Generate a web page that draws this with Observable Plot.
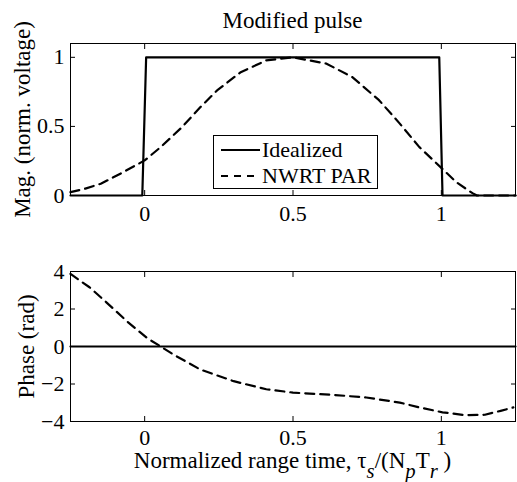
<!DOCTYPE html>
<html>
<head>
<meta charset="utf-8">
<script src="https://cdn.jsdelivr.net/npm/d3@7"></script>
<script src="https://cdn.jsdelivr.net/npm/@observablehq/plot@0.6"></script>
<style>
  html, body { margin: 0; padding: 0; background: #fff; }
  #fig { position: relative; width: 517px; height: 482px; font-family: "Liberation Serif", "Times New Roman", Times, "DejaVu Serif", serif; color: #000; }
  #fig > svg { position: absolute; left: 0; }
  #fig svg text { font-family: "Liberation Serif", "Times New Roman", Times, "DejaVu Serif", serif; }
  .title { position: absolute; left: 70px; width: 445px; text-align: center; font-size: 23px; line-height: 1; }
  .xlabel { position: absolute; left: 70px; width: 445px; text-align: center; font-size: 23px; line-height: 1; white-space: nowrap; }
  .sub { font-style: italic; position: relative; top: 0.48em; font-size: 0.9em; }
  .legend { position: absolute; border: 1px solid #000; background: #fff; box-sizing: border-box; }
  .legend .row { position: absolute; left: 0; height: 24px; display: flex; align-items: center; font-size: 22px; line-height: 1; white-space: nowrap; }
</style>
</head>
<body>
<div id="fig"></div>
<script>
// ---------- data ----------
const title = "Modified pulse";
const magLabel = "Mag. (norm. voltage)";
const phaseLabel = "Phase (rad)";
const seriesNames = ["Idealized", "NWRT PAR"];
const xDomain = [-0.25, 1.25];
const xTicks = [0, 0.5, 1];
const magDomain = [0, 1.1];
const magTicks = [0, 0.5, 1];
const phaseDomain = [-4, 4];
const phaseTicks = [-4, -2, 0, 2, 4];

// Idealized magnitude (rectangular pulse)
const idealMagX = [-0.25, -0.008, 0.005, 0.993, 1.004, 1.25];
const idealMagY = [0, 0, 1, 1, 0, 0];
// NWRT PAR magnitude
const parMagX = [-0.25, -0.2, -0.148, -0.08, 0, 0.054, 0.126, 0.188, 0.244, 0.322, 0.41, 0.5, 0.613, 0.70, 0.79, 0.86, 0.926, 1.0, 1.05, 1.105, 1.12, 1.18, 1.25];
const parMagY = [0.024, 0.05, 0.085, 0.16, 0.254, 0.35, 0.495, 0.64, 0.76, 0.89, 0.978, 1.0, 0.954, 0.857, 0.69, 0.52, 0.35, 0.2, 0.097, 0.017, 0, 0, 0];
// Idealized phase
const idealPhX = [-0.25, 1.25];
const idealPhY = [0, 0];
// NWRT PAR phase
const parPhX = [-0.25, -0.186, -0.13, -0.058, 0.009, 0.054, 0.098, 0.188, 0.3, 0.41, 0.5, 0.635, 0.747, 0.86, 0.926, 1.004, 1.08, 1.147, 1.2, 1.243];
const parPhY = [3.87, 3.16, 2.37, 1.32, 0.44, 0, -0.44, -1.23, -1.85, -2.28, -2.46, -2.58, -2.72, -2.99, -3.25, -3.51, -3.66, -3.64, -3.43, -3.25];

// ---------- helpers ----------
const zip = (xs, ys) => xs.map((x, i) => ({x, y: ys[i]}));
const fmt = d => d < 0 ? "\u2212" + (-d) : String(d);
const blank = () => "";
const FONT = '"Liberation Serif", "Times New Roman", Times, "DejaVu Serif", serif';
const DASH = "9,6";

function axes(yTicks, xPad) {
  return [
    Plot.frame({stroke: "black", strokeWidth: 1}),
    Plot.axisX(xTicks, {anchor: "bottom", tickSize: -5, tickPadding: xPad, tickFormat: fmt, fontSize: 22, label: null}),
    Plot.axisX(xTicks, {anchor: "top", tickSize: -5, tickFormat: blank, label: null}),
    Plot.axisY(yTicks, {anchor: "left", tickSize: -5, tickPadding: 11, tickFormat: fmt, fontSize: 22, label: null}),
    Plot.axisY(yTicks, {anchor: "right", tickSize: -5, tickFormat: blank, label: null})
  ];
}

const fig = document.getElementById("fig");

// ---------- top panel ----------
const topPlot = Plot.plot({
  width: 517, height: 240,
  marginLeft: 70, marginRight: 2, marginTop: 43, marginBottom: 45,
  style: {fontFamily: FONT, background: "white", color: "black", overflow: "visible"},
  x: {domain: xDomain},
  y: {domain: magDomain},
  marks: [
    ...axes(magTicks, 15),
    Plot.line(zip(idealMagX, idealMagY), {x: "x", y: "y", stroke: "black", strokeWidth: 2.2}),
    Plot.line(zip(parMagX, parMagY), {x: "x", y: "y", stroke: "black", strokeWidth: 2.2, strokeDasharray: DASH}),
    Plot.text([magLabel], {frameAnchor: "left", rotate: -90, dx: -47.5, fontSize: 23, text: d => d, textAnchor: "middle", lineAnchor: "middle"})
  ]
});
topPlot.style.top = "0px";
fig.appendChild(topPlot);

// ---------- bottom panel ----------
const botPlot = Plot.plot({
  width: 517, height: 242,
  marginLeft: 70, marginRight: 2, marginTop: 31, marginBottom: 61,
  style: {fontFamily: FONT, background: "white", color: "black", overflow: "visible"},
  x: {domain: xDomain},
  y: {domain: phaseDomain},
  marks: [
    ...axes(phaseTicks, 13),
    Plot.line(zip(idealPhX, idealPhY), {x: "x", y: "y", stroke: "black", strokeWidth: 2.2}),
    Plot.line(zip(parPhX, parPhY), {x: "x", y: "y", stroke: "black", strokeWidth: 2.2, strokeDasharray: DASH}),
    Plot.text([phaseLabel], {frameAnchor: "left", rotate: -90, dx: -44, fontSize: 23, text: d => d, textAnchor: "middle", lineAnchor: "middle"})
  ]
});
botPlot.style.top = "240px";
fig.appendChild(botPlot);

// ---------- title ----------
const t = document.createElement("div");
t.className = "title";
t.style.top = "9px";
t.textContent = title;
fig.appendChild(t);

// ---------- x label ----------
const xl = document.createElement("div");
xl.className = "xlabel";
xl.style.top = "449px";
xl.innerHTML = 'Normalized range time, \u03C4<span class="sub">s</span>/(N<span class="sub">p</span>T<span class="sub">r</span> )';
fig.appendChild(xl);

// ---------- legend ----------
const lg = document.createElement("div");
lg.className = "legend";
lg.style.left = "213px"; lg.style.top = "135px"; lg.style.width = "165px"; lg.style.height = "54px";
const dashes = [null, "7,6"];
const ns = "http://www.w3.org/2000/svg";
seriesNames.forEach((name, i) => {
  const row = document.createElement("div");
  row.className = "row";
  row.style.top = (i === 0 ? 2 : 28) + "px";
  row.style.left = "6px";
  const s = document.createElementNS(ns, "svg");
  s.setAttribute("width", "41"); s.setAttribute("height", "24");
  const ln = document.createElementNS(ns, "line");
  ln.setAttribute("x1", "1"); ln.setAttribute("x2", "40");
  ln.setAttribute("y1", "12"); ln.setAttribute("y2", "12");
  ln.setAttribute("stroke", "black"); ln.setAttribute("stroke-width", "2.2");
  if (dashes[i]) ln.setAttribute("stroke-dasharray", dashes[i]);
  s.appendChild(ln);
  row.appendChild(s);
  const sp = document.createElement("span");
  sp.textContent = name;
  sp.style.marginLeft = "1px";
  row.appendChild(sp);
  lg.appendChild(row);
});
fig.appendChild(lg);
</script>
</body>
</html>
